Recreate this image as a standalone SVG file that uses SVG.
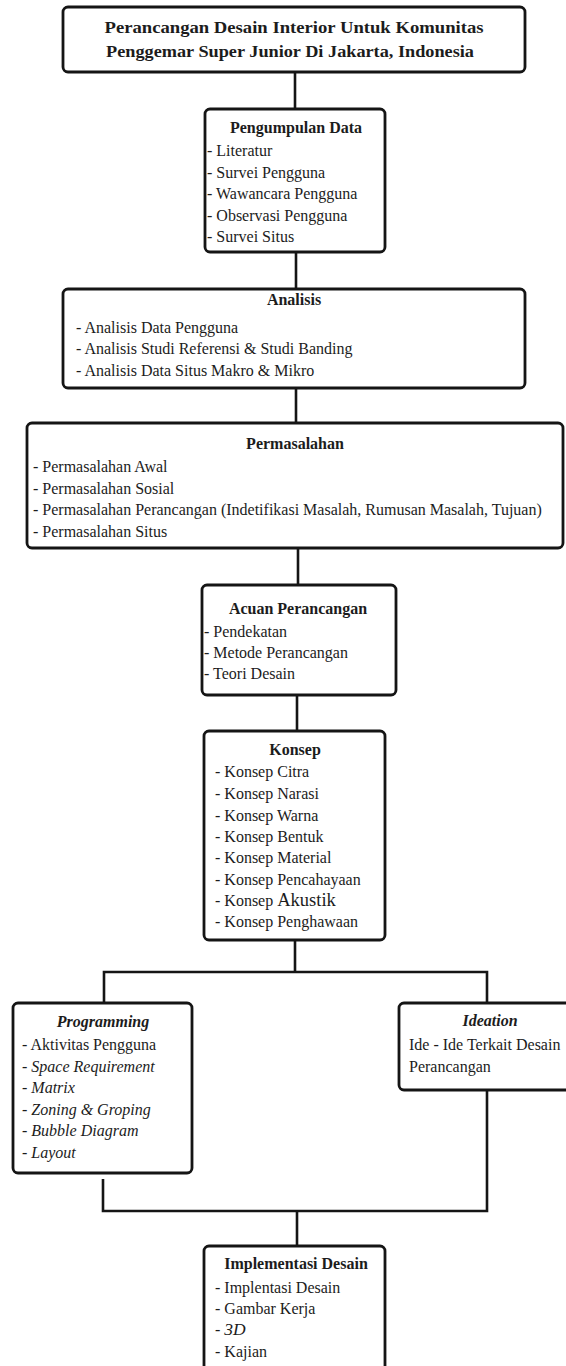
<svg xmlns="http://www.w3.org/2000/svg" width="566" height="1366" viewBox="0 0 566 1366">
<style>
.bg{fill:#ffffff}
.box{fill:#ffffff;stroke:#151515;stroke-width:2.8}
.con{stroke:#151515;stroke-width:2.6;fill:none}
text{font-family:"Liberation Serif","Times New Roman",serif;fill:#1c1c1c;font-size:16px}
.h{font-weight:bold;text-anchor:middle}
.t{font-weight:bold;font-size:17px;text-anchor:middle}
.i{font-style:italic}
.hi{font-weight:bold;font-style:italic;text-anchor:middle}
</style>
<rect class="bg" x="0" y="0" width="566" height="1366"/>
<g id="connectors">
<line class="con" x1="295" y1="72" x2="295" y2="109"/>
<line class="con" x1="296" y1="252" x2="296" y2="289"/>
<line class="con" x1="296" y1="388" x2="296" y2="423"/>
<line class="con" x1="298" y1="548" x2="298" y2="585"/>
<line class="con" x1="297" y1="695" x2="297" y2="731"/>
<line class="con" x1="295" y1="940" x2="295" y2="972"/>
<polyline class="con" points="104,1003 104,972 487,972 487,1003"/>
<polyline class="con" points="103,1179 103,1211 487,1211 487,1090"/>
<line class="con" x1="297" y1="1211" x2="297" y2="1246"/>
</g>
<g id="node-judul">
<rect class="box" x="63" y="7" width="462" height="65" rx="5"/>
<text class="t" x="294" y="33" textLength="379" lengthAdjust="spacingAndGlyphs">Perancangan Desain Interior Untuk Komunitas</text>
<text class="t" x="290" y="57" textLength="368" lengthAdjust="spacingAndGlyphs">Penggemar Super Junior Di Jakarta, Indonesia</text>
</g>
<g id="node-pengumpulan">
<rect class="box" x="205" y="109" width="180" height="143" rx="5"/>
<text class="h" x="296" y="133">Pengumpulan Data</text>
<text x="207" y="156">- Literatur</text>
<text x="207" y="177.5">- Survei Pengguna</text>
<text x="207" y="199">- Wawancara Pengguna</text>
<text x="207" y="220.5">- Observasi Pengguna</text>
<text x="207" y="242">- Survei Situs</text>
</g>
<g id="node-analisis">
<rect class="box" x="63" y="289" width="462" height="99" rx="5"/>
<text class="h" x="294" y="305">Analisis</text>
<text x="76" y="333">- Analisis Data Pengguna</text>
<text x="76" y="354">- Analisis Studi Referensi &amp; Studi Banding</text>
<text x="76" y="376">- Analisis Data Situs Makro &amp; Mikro</text>
</g>
<g id="node-permasalahan">
<rect class="box" x="27" y="423" width="536" height="125" rx="5"/>
<text class="h" x="295" y="449">Permasalahan</text>
<text x="33" y="472">- Permasalahan Awal</text>
<text x="33" y="493.5">- Permasalahan Sosial</text>
<text x="33" y="515">- Permasalahan Perancangan (Indetifikasi Masalah, Rumusan Masalah, Tujuan)</text>
<text x="33" y="537">- Permasalahan Situs</text>
</g>
<g id="node-acuan">
<rect class="box" x="202" y="585" width="194" height="110" rx="5"/>
<text class="h" x="298" y="614">Acuan Perancangan</text>
<text x="204" y="637">- Pendekatan</text>
<text x="204" y="658">- Metode Perancangan</text>
<text x="204" y="679">- Teori Desain</text>
</g>
<g id="node-konsep">
<rect class="box" x="204" y="731" width="181" height="209" rx="5"/>
<text class="h" x="295" y="755">Konsep</text>
<text x="215" y="777">- Konsep Citra</text>
<text x="215" y="799">- Konsep Narasi</text>
<text x="215" y="820.5">- Konsep Warna</text>
<text x="215" y="842">- Konsep Bentuk</text>
<text x="215" y="863">- Konsep Material</text>
<text x="215" y="884.5">- Konsep Pencahayaan</text>
<text x="215" y="906">- Konsep <tspan style="font-size:18.5px">Akustik</tspan></text>
<text x="215" y="927">- Konsep Penghawaan</text>
</g>
<g id="node-programming">
<rect class="box" x="13" y="1003" width="179" height="170" rx="5"/>
<text class="hi" x="103" y="1027">Programming</text>
<text x="22" y="1050">- Aktivitas Pengguna</text>
<text class="i" x="22" y="1072">- Space Requirement</text>
<text class="i" x="22" y="1093">- Matrix</text>
<text class="i" x="22" y="1115">- Zoning &amp; Groping</text>
<text class="i" x="22" y="1136">- Bubble Diagram</text>
<text class="i" x="22" y="1158">- Layout</text>
</g>
<g id="node-ideation">
<rect class="box" x="399" y="1003" width="175" height="87" rx="5"/>
<text class="hi" x="490" y="1026">Ideation</text>
<text x="409" y="1050">Ide - Ide Terkait Desain</text>
<text x="409" y="1072">Perancangan</text>
</g>
<g id="node-implementasi">
<rect class="box" x="204" y="1246" width="181" height="140" rx="5"/>
<text class="h" x="296" y="1269">Implementasi Desain</text>
<text x="215" y="1293">- Implentasi Desain</text>
<text x="215" y="1313.5">- Gambar Kerja</text>
<text x="215" y="1335">- <tspan class="i" style="font-size:17.5px">3D</tspan></text>
<text x="215" y="1357">- Kajian</text>
</g>
</svg>
